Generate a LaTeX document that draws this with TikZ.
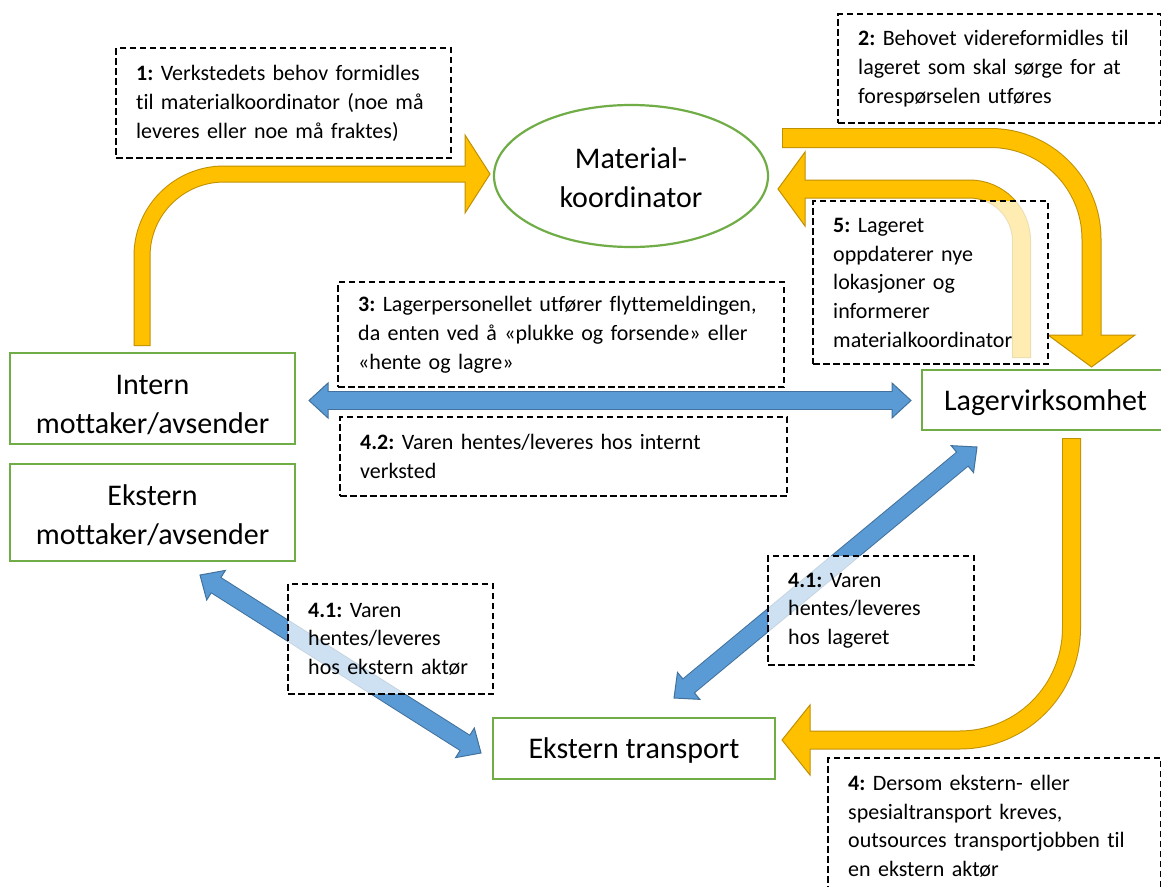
\documentclass[tikz,border=0pt]{standalone}
\usepackage{fontspec}
\setmainfont{Carlito}[Ligatures=NoCommon]
\usetikzlibrary{calc,shapes.geometric}
\frenchspacing

\definecolor{ylw}{HTML}{FFC000}
\definecolor{ylwedge}{HTML}{BF9000}
\definecolor{blu}{HTML}{5B9BD5}
\definecolor{bluedge}{HTML}{41719C}
\definecolor{grn}{HTML}{70AD47}

% bent block arrow: fill colour, edge colour, shaft width, shaft path, head polygon
\newcommand\bentarrow[5]{%
  \draw[#2, line width=#3+2pt] #4;
  \filldraw[fill=#1, draw=#2, line width=1pt] #5;
  \draw[#1, line width=#3, shorten <=1pt] #4;
}
% straight block arrow with a head at both ends
\newcommand\twoway[2]{%
  \coordinate (h1) at ($(#1)!19pt!(#2)$);
  \coordinate (h2) at ($(#2)!19pt!(#1)$);
  \draw[bluedge, line width=19pt] ($(#1)!18pt!(#2)$) -- ($(#2)!18pt!(#1)$);
  \filldraw[fill=blu, draw=bluedge, line width=1pt]
    (#1) -- ($(h1)!17.5pt!90:(#2)$) -- ($(h1)!17.5pt!-90:(#2)$) -- cycle;
  \filldraw[fill=blu, draw=bluedge, line width=1pt]
    (#2) -- ($(h2)!17.5pt!90:(#1)$) -- ($(h2)!17.5pt!-90:(#1)$) -- cycle;
  \draw[blu, line width=17pt] ($(#1)!16pt!(#2)$) -- ($(#2)!16pt!(#1)$);
}

\tikzset{
  note/.style={draw=black, dash pattern=on 6.5pt off 3.5pt, line width=2.4pt,
    fill=white, fill opacity=0.7, text opacity=1, anchor=north west,
    inner xsep=20pt, inner ysep=0pt, align=left,
    font=\fontsize{22}{28.7}\selectfont},
  actor/.style={draw=grn, line width=2.2pt, inner sep=0pt},
  actortext/.style={align=center, inner sep=0pt, font=\fontsize{30}{39}\selectfont},
}

\begin{document}
\begin{tikzpicture}[x=1pt, y=-1pt]
\useasboundingbox (0,0) rectangle (1161,886);
\fill[white] (0,0) rectangle (1161,886);

% parties in the flow
\node[actor, ellipse, minimum width=274pt, minimum height=142pt,
  label={[actortext, yshift=-1.5pt]center:Material-\\koordinator}] (mk) at (631,176) {};
\node[actor, minimum width=285pt, minimum height=91pt,
  label={[actortext, yshift=-7pt]center:Intern\\mottaker/avsender}] (intern) at (152.5,398.5) {};
\node[actor, minimum width=285pt, minimum height=97pt,
  label={[actortext, yshift=-2.5pt]center:Ekstern\\mottaker/avsender}] (ekstern) at (152.5,512.5) {};
\node[actor, minimum width=241pt, minimum height=60pt,
  label={[actortext, yshift=-3pt, xshift=3pt]center:Lagervirksomhet}] (lager) at (1042.5,400) {};
\node[actor, minimum width=282pt, minimum height=61pt,
  label={[actortext, yshift=-2pt]center:Ekstern transport}] (transport) at (634,748.5) {};

% end points of the block arrows
\coordinate (hl) at (309,400.5);
\coordinate (hr) at (911,400.5);
\coordinate (dla) at (200,575);
\coordinate (dlb) at (481,753);
\coordinate (dra) at (977,447);
\coordinate (drb) at (674,698);

% information flow (yellow)
\bentarrow{ylw}{ylwedge}{15pt}{[rounded corners=82pt] (142,346) |- (468,174)}
  {(465,135) -- (490,174) -- (465,213) -- cycle}
\bentarrow{ylw}{ylwedge}{18pt}{[rounded corners=101pt] (782,138) -| (1091.5,338)}
  {(1048,335) -- (1135,335) -- (1091.5,367) -- cycle}
\bentarrow{ylw}{ylwedge}{17pt}{[rounded corners=52pt] (1021.5,358) |- (802,189)}
  {(805,152) -- (778,189) -- (805,226) -- cycle}
\bentarrow{ylw}{ylwedge}{17pt}{[rounded corners=112pt] (1071.5,438) |- (807,740)}
  {(810,705) -- (782,740) -- (810,775) -- cycle}

% goods flow (blue)
\twoway{hl}{hr}
\twoway{dla}{dlb}
\twoway{dra}{drb}

% step descriptions
\node[note, minimum width=335pt, minimum height=110pt, text width=295pt] (n1) at (115,47)
  {\textbf{1:} Verkstedets behov formidles\\til materialkoordinator (noe må\\leveres eller noe må fraktes)};
\node[note, minimum width=323pt, minimum height=109pt, text width=283pt] (n2) at (837,13)
  {\textbf{2:} Behovet videreformidles til\\lageret som skal sørge for at\\forespørselen utføres};
\node[note, minimum width=446pt, minimum height=105pt, text width=406pt] (n3) at (337,281)
  {\textbf{3:} Lagerpersonellet utfører flyttemeldingen,\\da enten ved å «plukke og forsende» eller\\«hente og lagre»};
\node[note, minimum width=447pt, minimum height=79pt, text width=407pt] (n42) at (339,416)
  {\textbf{4.2:} Varen hentes/leveres hos internt\\verksted};
\node[note, minimum width=235pt, minimum height=163pt, text width=195pt] (n5) at (812,200)
  {\textbf{5:} Lageret\\oppdaterer nye\\lokasjoner og\\informerer\\materialkoordinator};
\node[note, minimum width=205pt, minimum height=110pt, text width=165pt] (n41a) at (287,583)
  {\textbf{4.1:} Varen\\hentes/leveres\\hos ekstern aktør};
\node[note, minimum width=206pt, minimum height=109pt, text width=166pt] (n41b) at (767,555)
  {\textbf{4.1:} Varen\\hentes/leveres\\hos lageret};
\node[note, minimum width=333pt, minimum height=136pt, text width=293pt] (n4) at (827,757)
  {\textbf{4:} Dersom ekstern- eller\\spesialtransport kreves,\\outsources transportjobben til\\en ekstern aktør};
\end{tikzpicture}
\end{document}
